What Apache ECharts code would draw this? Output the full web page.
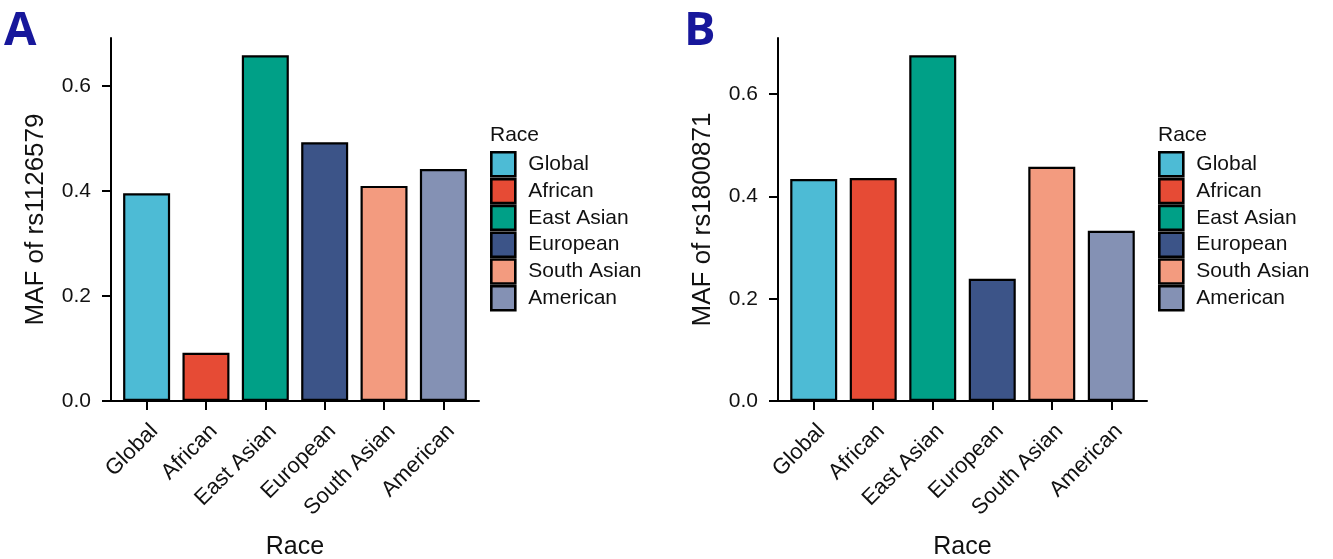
<!DOCTYPE html>
<html>
<head>
<meta charset="utf-8">
<title>MAF by race</title>
<script src="https://cdn.jsdelivr.net/npm/echarts@6/dist/echarts.min.js"></script>
<style>
  html, body { margin: 0; padding: 0; background: #fff; }
  #chart { width: 1333px; height: 559px; }
</style>
</head>
<body>
<div id="chart"></div>
<script>
// Populations shown on the x axis and in the legends
const categories = ['Global', 'African', 'East Asian', 'European', 'South Asian', 'American'];
// Minor allele frequency per population
const mafRs1126579 = [0.396, 0.092, 0.659, 0.493, 0.410, 0.442];
const mafRs1800871 = [0.434, 0.436, 0.676, 0.239, 0.458, 0.333];
// Fill colour per population
const raceColors = ['#4DBBD5', '#E64B35', '#00A087', '#3C5488', '#F39B7F', '#8491B4'];
// Tick positions of the value axis
const yTicks = [0, 0.2, 0.4, 0.6];
// Category positions on the x axis (1-based, with 0.6 padding on each side)
const xPositions = [1, 2, 3, 4, 5, 6];

const FONT = '"Liberation Sans", Arial, Helvetica, sans-serif';
const INK = '#111';

const panels = [
  { tag: 'A', tagLeft: 4, snp: 'rs1126579', values: mafRs1126579, grid: { left: 111, top: 38, width: 368, height: 363 }, legendLeft: 490 },
  { tag: 'B', tagLeft: 684, snp: 'rs1800871', values: mafRs1800871, grid: { left: 778, top: 38, width: 369, height: 363 }, legendLeft: 1158 }
];

const option = {
  animation: false,
  backgroundColor: '#fff',
  textStyle: { fontFamily: FONT },
  title: [],
  grid: [],
  xAxis: [],
  yAxis: [],
  legend: [],
  series: []
};

panels.forEach((p, pi) => {
  // panel tag
  option.title.push({
    text: p.tag,
    left: p.tagLeft,
    top: 8,
    padding: 0,
    textStyle: { fontFamily: '"Open Sans", "Noto Sans", sans-serif', fontWeight: 'bold', fontSize: 47, color: '#17179b' }
  });
  // legend heading
  option.title.push({
    text: 'Race',
    left: p.legendLeft,
    top: 125,
    padding: 0,
    textStyle: { fontFamily: FONT, fontWeight: 'normal', fontSize: 21, color: INK }
  });

  // fixed plot area; labels are allowed to sit outside it
  option.grid.push(Object.assign({ containLabel: false, outerBoundsMode: 'none' }, p.grid));

  option.xAxis.push({
    type: 'value',
    gridIndex: pi,
    min: 0.4,
    max: 6.6,
    name: 'Race',
    nameLocation: 'middle',
    nameGap: 134,
    nameTextStyle: { fontSize: 25, color: INK, fontFamily: FONT },
    splitLine: { show: false },
    axisLine: { show: true, onZero: false, lineStyle: { color: '#000', width: 2 } },
    axisTick: { show: true, customValues: xPositions, length: 9, lineStyle: { color: '#000', width: 2 } },
    axisLabel: {
      customValues: xPositions,
      formatter: v => categories[Math.round(v) - 1] || '',
      rotate: 45,
      align: 'right',
      verticalAlign: 'top',
      margin: 19,
      fontSize: 22,
      color: INK,
      fontFamily: FONT
    }
  });

  const yMax = Math.max(...p.values) * 1.05;
  option.yAxis.push({
    type: 'value',
    gridIndex: pi,
    min: 0,
    max: yMax,
    name: 'MAF of ' + p.snp,
    nameLocation: 'middle',
    nameGap: 62,
    nameTextStyle: { fontSize: 26, color: INK, fontFamily: FONT },
    splitLine: { show: false },
    axisLine: { show: true, onZero: false, lineStyle: { color: '#000', width: 2 } },
    axisTick: { show: true, customValues: yTicks, length: 9, lineStyle: { color: '#000', width: 2 } },
    axisLabel: {
      customValues: yTicks,
      formatter: v => v.toFixed(1),
      margin: 20,
      fontSize: 21,
      color: INK,
      fontFamily: FONT
    }
  });

  option.legend.push({
    orient: 'vertical',
    left: p.legendLeft,
    top: 151,
    padding: 0,
    itemWidth: 24,
    itemHeight: 24,
    itemGap: 0.2,
    icon: 'rect',
    selectedMode: false,
    data: categories,
    itemStyle: { borderColor: '#000', borderWidth: 2.6 },
    textStyle: { fontSize: 21, lineHeight: 22, color: INK, fontFamily: FONT, padding: [0, 0, 0, 8] }
  });

  categories.forEach((c, ci) => {
    option.series.push({
      name: c,
      type: 'bar',
      xAxisIndex: pi,
      yAxisIndex: pi,
      barWidth: 47,
      barGap: '-100%',
      data: [[xPositions[ci], p.values[ci]]],
      itemStyle: { color: raceColors[ci], borderColor: '#000', borderWidth: 2.2 },
      emphasis: { disabled: true }
    });
  });
});

const chart = echarts.init(document.getElementById('chart'), null, { renderer: 'canvas' });
chart.setOption(option);
</script>
</body>
</html>
